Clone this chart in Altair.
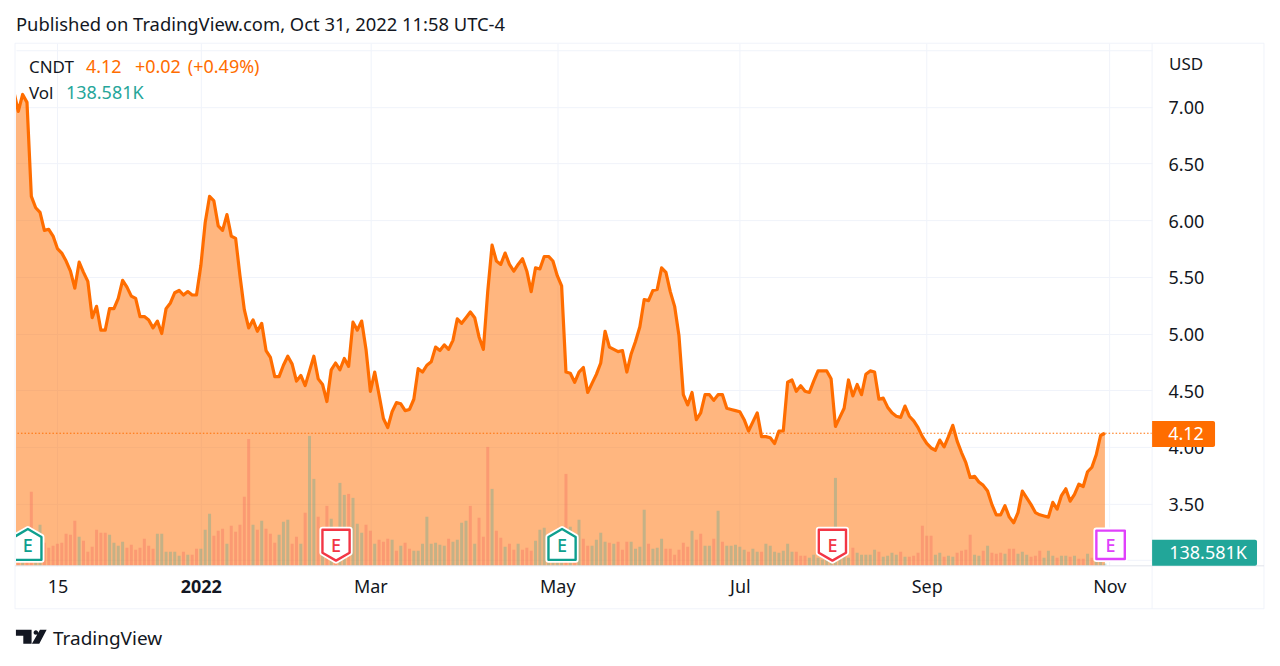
import altair as alt
import pandas as pd

FONT = "Noto Sans"
INK = "#131722"
ORANGE = "#FF6D00"
TEAL = "#22A699"
FRAME = "#F0F3FA"

first_bar = -1
prices = [
    7.13, 6.96, 7.11, 7.04, 6.21, 6.11, 6.07, 5.91, 5.92, 5.86,
    5.75, 5.71, 5.64, 5.55, 5.40, 5.63, 5.54, 5.46, 5.14, 5.24,
    5.03, 5.03, 5.22, 5.22, 5.31, 5.47, 5.41, 5.33, 5.31, 5.15,
    5.15, 5.12, 5.05, 5.11, 5.00, 5.22, 5.27, 5.36, 5.38, 5.34,
    5.37, 5.34, 5.34, 5.60, 5.98, 6.21, 6.17, 5.95, 5.91, 6.05,
    5.86, 5.84, 5.51, 5.21, 5.05, 5.12, 5.02, 5.09, 4.85, 4.79,
    4.62, 4.62, 4.72, 4.80, 4.73, 4.58, 4.63, 4.54, 4.67, 4.80,
    4.60, 4.55, 4.40, 4.68, 4.74, 4.68, 4.78, 4.71, 5.10, 5.03,
    5.11, 4.86, 4.49, 4.66, 4.46, 4.25, 4.17, 4.31, 4.39, 4.38,
    4.32, 4.33, 4.42, 4.69, 4.66, 4.72, 4.75, 4.88, 4.85, 4.90,
    4.86, 4.94, 5.13, 5.09, 5.14, 5.19, 5.14, 4.97, 4.86, 5.37,
    5.78, 5.64, 5.61, 5.71, 5.61, 5.55, 5.61, 5.66, 5.55, 5.37,
    5.58, 5.57, 5.68, 5.68, 5.64, 5.51, 5.42, 4.66, 4.65, 4.57,
    4.66, 4.70, 4.48, 4.56, 4.64, 4.74, 5.02, 4.88, 4.86, 4.84,
    4.85, 4.66, 4.82, 4.93, 5.06, 5.30, 5.29, 5.38, 5.39, 5.58,
    5.54, 5.37, 5.24, 4.98, 4.46, 4.37, 4.48, 4.24, 4.30, 4.46,
    4.46, 4.41, 4.46, 4.46, 4.34, 4.33, 4.32, 4.31, 4.24, 4.14,
    4.22, 4.30, 4.09, 4.09, 4.08, 4.03, 4.14, 4.14, 4.57, 4.59,
    4.49, 4.54, 4.49, 4.48, 4.58, 4.67, 4.67, 4.67, 4.60, 4.18,
    4.26, 4.34, 4.59, 4.45, 4.55, 4.46, 4.64, 4.67, 4.66, 4.42,
    4.43, 4.35, 4.30, 4.27, 4.26, 4.36, 4.27, 4.23, 4.17, 4.09,
    4.03, 3.99, 3.97, 4.06, 4.00, 4.09, 4.19, 4.05, 3.95, 3.86,
    3.73, 3.74, 3.69, 3.66, 3.61, 3.49, 3.40, 3.40, 3.48, 3.38,
    3.33, 3.42, 3.61, 3.55, 3.49, 3.42, 3.40, 3.39, 3.38, 3.51,
    3.45, 3.57, 3.63, 3.52, 3.58, 3.67, 3.65, 3.78, 3.82, 3.93,
    4.10, 4.12,
]
volumes_k = [
    1200, 1200, 1500, 4440, 1500, 2460, 1380, 1080, 1200, 1320,
    1380, 1920, 1860, 2700, 1740, 1500, 840, 1140, 2160, 1980,
    1980, 1860, 1380, 1200, 1440, 1080, 1260, 960, 1080, 1620,
    1200, 1020, 1920, 1920, 840, 840, 840, 600, 840, 660,
    660, 1020, 1020, 2160, 3120, 1800, 2100, 2220, 1320, 2400,
    2040, 2460, 4140, 7620, 2460, 2160, 2700, 2220, 1920, 1380,
    1860, 2640, 2760, 1320, 1740, 1320, 3180, 7800, 5220, 2940,
    2280, 3600, 2820, 2000, 4980, 4260, 4320, 4080, 2520, 1980,
    2460, 2100, 1320, 1560, 1440, 1620, 1560, 900, 1200, 1380,
    1020, 900, 900, 1320, 2940, 1320, 1380, 1260, 1200, 1620,
    1440, 1560, 2580, 2700, 3600, 1320, 2880, 1740, 7140, 4620,
    2100, 1680, 1140, 1320, 960, 1320, 960, 1080, 900, 1500,
    2160, 2280, 1200, 1200, 1200, 1200, 5520, 2340, 1680, 2760,
    1620, 1200, 1200, 1560, 1980, 1440, 1380, 1320, 1440, 960,
    1440, 1440, 1020, 1140, 3360, 1320, 1020, 1080, 1620, 1020,
    1020, 660, 960, 1380, 1140, 2100, 1560, 1920, 1200, 1200,
    1620, 3300, 1440, 1200, 1200, 1260, 1140, 960, 840, 1020,
    840, 840, 1320, 1200, 840, 780, 900, 1320, 840, 840,
    600, 600, 480, 660, 480, 360, 600, 600, 5280, 900,
    900, 480, 1080, 780, 660, 660, 660, 960, 840, 540,
    600, 780, 660, 840, 540, 540, 600, 780, 2400, 1800,
    1800, 660, 780, 540, 600, 540, 780, 900, 960, 1860,
    660, 600, 900, 1200, 780, 720, 780, 720, 1020, 1020,
    720, 840, 660, 540, 600, 900, 480, 900, 600, 480,
    600, 600, 540, 600, 420, 420, 720, 480, 300, 240,
    139,
]
up_flags = (
    "0100110000" "0000100000" "0111100000" "0011111101" "0011100010"
    "0000101000" "1110010110" "1010110111" "0010001010" "0111111110"
    "1111010001" "0010010001" "1111110101" "0011110100" "0111101110"
    "0000010011" "0101111101" "1011111110" "0011111111" "1101111101"
    "1110100000" "0110110000" "1101000100" "1110001110" "11010010111"
)
x_tick_bars = [9, 42, 81, 124, 166, 209, 251]
x_tick_labels = ["15", "2022", "Mar", "May", "Jul", "Sep", "Nov"]
bold_tick_bar = 42
y_grid_prices = [3.0, 3.5, 4.0, 4.5, 5.0, 5.5, 6.0, 6.5, 7.0, 7.5]
last_price = 4.12
earnings_bars = [2.2, 73.1, 125.1, 187.3, 251.3]
earnings_kinds = ["up", "down", "up", "down", "next"]

W, H = 1137, 523
x_domain = [-0.53, 260.85]
y_domain = [2.95, 7.562]
vol_domain = [0, 31380]

price_df = pd.DataFrame({"bar": range(first_bar, first_bar + len(prices)), "price": prices})
vol_df = pd.DataFrame({
    "bar": range(len(volumes_k)),
    "vol": volumes_k,
    "dir": ["up" if c == "1" else "down" for c in up_flags],
})

tick_map = "{" + ",".join(f"'{b}':'{l}'" for b, l in zip(x_tick_bars, x_tick_labels)) + "}"
x_scale = alt.Scale(domain=x_domain, nice=False, zero=False, padding=0)
y_scale = alt.Scale(domain=y_domain, nice=False, zero=False)
x_axis = alt.Axis(
    values=x_tick_bars, labelExpr=f"{tick_map}[datum.value]", title=None, domain=False, ticks=False,
    grid=True, gridColor=FRAME, gridWidth=1, labelFont=FONT, labelFontSize=18, labelColor=INK,
    labelPadding=13, labelAngle=0, labelFlush=False, labelOverlap=False,
    labelFontWeight=alt.condition(f"datum.value == {bold_tick_bar}", alt.value("bold"), alt.value("normal")),
)
y_axis = alt.Axis(
    values=y_grid_prices, orient="right", title=None, domain=False, ticks=False, grid=True,
    gridColor=FRAME, gridWidth=1, labelFont=FONT, labelFontSize=18, labelColor=INK, labelPadding=16,
    labelOffset=2,
    labelExpr="datum.value < 3.2 || datum.value > 7.2 ? '' : format(datum.value, '.2f')",
)
X = alt.X("bar:Q", scale=x_scale, axis=x_axis)

area = alt.Chart(price_df).mark_area(color=ORANGE, opacity=0.5, clip=True, interpolate="linear").encode(
    x=X,
    y=alt.Y("price:Q", scale=y_scale, axis=y_axis),
    y2=alt.value(H),
)
bars = alt.Chart(vol_df).mark_bar(size=3, clip=True, opacity=0.27).encode(
    x=X,
    y=alt.Y("vol:Q", scale=alt.Scale(domain=vol_domain, nice=False), axis=None),
    y2=alt.value(H),
    color=alt.Color("dir:N", scale=alt.Scale(domain=["up", "down"], range=["#26A69A", "#EF5350"]), legend=None),
)
line = alt.Chart(price_df).mark_line(color=ORANGE, strokeWidth=3.2, clip=True, strokeJoin="round").encode(
    x=X,
    y=alt.Y("price:Q", scale=y_scale, axis=None),
)
last_rule = alt.Chart(pd.DataFrame({"price": [last_price]})).mark_rule(
    color=ORANGE, strokeWidth=1, strokeDash=[1.5, 2]
).encode(y=alt.Y("price:Q", scale=y_scale, axis=None))


def txt(text, px, py, color=INK, size=18, align="left", weight="normal", font=FONT):
    """A single piece of chart furniture; px/py are page pixels of the text's visual centre."""
    return alt.Chart(alt.Data(values=[{"t": text}])).mark_text(
        align=align, baseline="middle", font=font, fontSize=size, color=color, fontWeight=weight
    ).encode(x=alt.value(px - 16), y=alt.value(py - 43 + 1.5), text="t:N")


def rule(x0, y0, x1, y1, color=FRAME, width=1):
    return alt.Chart(alt.Data(values=[{}])).mark_rule(color=color, strokeWidth=width).encode(
        x=alt.value(x0 - 16), x2=alt.value(x1 - 16), y=alt.value(y0 - 43), y2=alt.value(y1 - 43)
    )


def tag(x0, y0, x1, y1, color):
    return alt.Chart(alt.Data(values=[{}])).mark_rect(color=color, cornerRadiusTopRight=2, cornerRadiusBottomRight=2).encode(
        x=alt.value(x0 - 16), x2=alt.value(x1 - 16), y=alt.value(y0 - 43), y2=alt.value(y1 - 43)
    )


PATHS = {
    "up": "M0,-1 L0.86,-0.5 L0.86,0.95 L-0.86,0.95 L-0.86,-0.5 Z",
    "down": "M-0.86,-0.95 L0.86,-0.95 L0.86,0.5 L0,1 L-0.86,0.5 Z",
    "next": "M-0.9,-0.9 L0.9,-0.9 L0.9,0.9 L-0.9,0.9 Z",
}
COLORS = {"up": "#0E9F8E", "down": "#F23645", "next": "#E040FB"}


def badge(bar, kind):
    d = alt.Data(values=[{"bar": bar}])
    enc = dict(x=X, y=alt.value(545 - 43))
    halo = alt.Chart(d).mark_point(
        shape=PATHS[kind], size=1000, filled=True, fill="white", stroke="white", strokeWidth=6,
        strokeJoin="round", opacity=1, clip=True).encode(**enc)
    body = alt.Chart(d).mark_point(
        shape=PATHS[kind], size=1000, filled=True, fill="white", stroke=COLORS[kind], strokeWidth=2.4,
        strokeJoin="round", opacity=1, clip=True).encode(**enc)
    letter = alt.Chart(alt.Data(values=[{"bar": bar, "t": "E"}])).mark_text(
        font=FONT, fontSize=18, fontWeight=500, color=COLORS[kind], baseline="middle", align="center", clip=True
    ).encode(x=X, y=alt.value(546 - 43 + 1), text="t:N")
    return [halo, body, letter]


logo_path = (
    "M-1,-0.457 L0.02,-0.457 L0.02,0.457 L-0.52,0.457 L-0.52,-0.065 L-1,-0.065 Z "
    "M0.15,-0.28 A0.15,0.15 0 1,1 0.45,-0.28 A0.15,0.15 0 1,1 0.15,-0.28 Z "
    "M0.565,-0.457 L1,-0.457 L0.52,0.457 L0.04,0.457 Z"
)
logo = alt.Chart(alt.Data(values=[{}])).mark_point(
    shape=logo_path, size=945, filled=True, fill=INK, opacity=1, strokeWidth=0
).encode(x=alt.value(31.3 - 16), y=alt.value(637 - 43))

badges = []
for b, k in zip(earnings_bars, earnings_kinds):
    badges += badge(b, k)

furniture = [
    rule(15, 43, 1265, 43), rule(15, 609, 1265, 609), rule(15, 43, 15, 609), rule(1265, 43, 1265, 609),
    rule(1153, 43, 1153, 609), rule(15, 566, 1265, 566, color="#E0E3EB"),
    txt("Published on TradingView.com, Oct 31, 2022 11:58 UTC-4", 16, 23.5, size=18.4),
    txt("CNDT", 29, 66.5, size=17), txt("4.12", 86, 66.5, ORANGE), txt("+0.02", 135, 66.5, ORANGE),
    txt("(+0.49%)", 188, 66.5, ORANGE), txt("Vol", 29, 92.5, size=17), txt("138.581K", 66, 92.5, "#26A69A"),
    txt("USD", 1170, 63, size=17),
    tag(1153, 421, 1216, 447, ORANGE), txt("4.12", 1187, 433.5, "white", align="center"),
    tag(1153, 540, 1258, 566, TEAL), txt("138.581K", 1209, 552.5, "white", align="center"),
    txt("TradingView", 53, 637.5, size=19), logo,
]

chart = alt.layer(area, bars, line, last_rule, *badges, *furniture).resolve_scale(y="independent").properties(
    width=W, height=H,
    background="white",
    autosize=alt.AutoSizeParams(type="none"),
    padding={"left": 8, "top": 35, "right": 120, "bottom": 90},
).configure_view(stroke=None)

chart.save("out.html", embed_options={"renderer": "svg", "actions": False})
